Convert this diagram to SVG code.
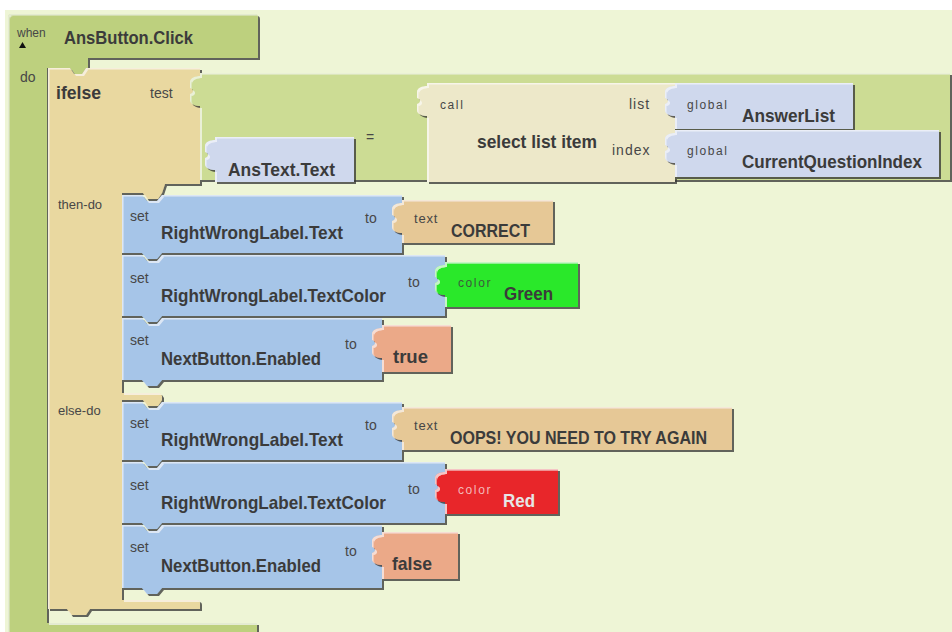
<svg xmlns="http://www.w3.org/2000/svg" xmlns:xlink="http://www.w3.org/1999/xlink" width="952" height="632" viewBox="0 0 952 632">
  <defs>
    <style>
      text { font-family: "Liberation Sans", Arial, sans-serif; }
      .lbl { font-size: 14px; fill: #474747; }
      .tiny { font-size: 12px; letter-spacing: 1.6px; fill: #474747; }
      .name { font-size: 19px; font-weight: bold; fill: #3b3b3b; }
      .shape { filter: url(#bevel); }
      .ev { fill: #BDD07E; }
      .cond { fill: #E9D8A0; }
      .eq { fill: #CCDC94; }
      .get { fill: #CFD8ED; }
      .call { fill: #EDE8C9; }
      .set { fill: #A6C5E8; }
      .txt { fill: #E6C896; }
      .grn { fill: #2BE82B; }
      .red { fill: #E8282A; }
      .bool { fill: #EBA988; }
    </style>
    <!-- raised-block look: dark lower/right edge, light upper/left rim -->
    <filter id="bevel" x="-2%" y="-5%" width="104%" height="115%">
      <feOffset in="SourceAlpha" dx="1.5" dy="1.5" result="drop"/>
      <feFlood flood-color="#333333" flood-opacity="0.75" result="dropColor"/>
      <feComposite in="dropColor" in2="drop" operator="in" result="shadow"/>
      <feOffset in="SourceAlpha" dx="1.5" dy="1.5" result="inset"/>
      <feComposite in="SourceAlpha" in2="inset" operator="out" result="rim"/>
      <feFlood flood-color="#ffffff" flood-opacity="0.55"/>
      <feComposite in2="rim" operator="in" result="light"/>
      <feMerge>
        <feMergeNode in="shadow"/>
        <feMergeNode in="SourceGraphic"/>
        <feMergeNode in="light"/>
      </feMerge>
    </filter>
    <!-- plug on the left side of value blocks, relative to the body's top-left -->
    <path id="plug" d="M1,3 C-5,3 -10,5 -10,9 L-10,15 C-6,16 -6,20 -10,21 L-10,27 C-10,31 -5,33 1,33 Z"/>
  </defs>

  <!-- workspace -->
  <rect x="0" y="0" width="952" height="632" fill="#ffffff"/>
  <rect x="5" y="10" width="947" height="622" fill="#EEF5D6"/>

  <!-- event handler -->
  <g id="when-ansbutton-click">
    <g class="shape ev">
      <path d="M11,14 H255 Q258,14 258,17 V58 H88 V68 H86 L82,74 H74 L70,68 H47 V623 H257 V636 H8 V17 Q8,14 11,14 Z"/>
    </g>
    <text class="lbl" x="17" y="37" style="font-size:12px">when</text>
    <path d="M19,48 L26,48 L22.5,42 Z" fill="#111"/>
    <text class="name" x="64" y="44" textLength="129" lengthAdjust="spacingAndGlyphs">AnsButton.Click</text>
    <text class="lbl" x="20" y="82">do</text>
  </g>

  <!-- ifelse -->
  <g id="ifelse">
    <g class="shape cond">
      <path d="M48,68 H70 L74,74 H82 L86,68 H200 V184 H165 L162,193 L158,199 H147 L143,193 H122 V393 H160 L162,396 V400 L158,406 H147 L143,400 H122 V600 H197 Q200,600 200,603 V609 H90 L86,615 H71 L67,609 H48 Z"/>
    </g>
    <text class="name" x="56" y="99" textLength="45" lengthAdjust="spacingAndGlyphs">ifelse</text>
    <text class="lbl" x="150" y="98">test</text>
    <text class="lbl" x="58" y="209" style="font-size:13px">then-do</text>
    <text class="lbl" x="58" y="415" style="font-size:13px">else-do</text>
  </g>

  <!-- comparison -->
  <g id="equals">
    <g class="shape eq">
      <path d="M200,73 H950 V180 H200 Z"/>
      <use xlink:href="#plug" x="200" y="73"/>
    </g>
    <text class="lbl" x="366" y="142">=</text>
  </g>

  <g id="anstext-text">
    <g class="shape get">
      <path d="M215,137 H354 V182 H215 Z"/>
      <use xlink:href="#plug" x="215" y="137"/>
    </g>
    <text class="name" x="228" y="176" textLength="107" lengthAdjust="spacingAndGlyphs">AnsText.Text</text>
  </g>

  <g id="select-list-item">
    <g class="shape call">
      <path d="M427,83 H675 V182 H427 Z"/>
      <use xlink:href="#plug" x="427" y="83"/>
    </g>
    <text class="tiny" x="440" y="109">call</text>
    <text class="name" x="477" y="148" textLength="120" lengthAdjust="spacingAndGlyphs">select list item</text>
    <text class="lbl" x="629" y="109" style="letter-spacing:1px">list</text>
    <text class="lbl" x="612" y="155" style="letter-spacing:1px">index</text>
  </g>

  <g id="global-answerlist">
    <g class="shape get">
      <path d="M675,83 H853 V129 H675 Z"/>
      <use xlink:href="#plug" x="675" y="83"/>
    </g>
    <text class="tiny" x="687" y="109">global</text>
    <text class="name" x="742" y="122" textLength="93" lengthAdjust="spacingAndGlyphs">AnswerList</text>
  </g>

  <g id="global-currentquestionindex">
    <g class="shape get">
      <path d="M675,130 H939 V177 H675 Z"/>
      <use xlink:href="#plug" x="675" y="130"/>
    </g>
    <text class="tiny" x="687" y="155">global</text>
    <text class="name" x="742" y="168" textLength="180" lengthAdjust="spacingAndGlyphs">CurrentQuestionIndex</text>
  </g>

  <!-- then-do statements -->
  <g id="set-text-correct">
    <g class="shape set">
      <path d="M122,195 H142 L147,201 H157 L162,195 H402 V253 H162 L157,259 H147 L142,253 H122 Z"/>
    </g>
    <text class="lbl" x="130" y="221">set</text>
    <text class="name" x="161" y="239" textLength="182" lengthAdjust="spacingAndGlyphs">RightWrongLabel.Text</text>
    <text class="lbl" x="365" y="223">to</text>
  </g>
  <g id="text-correct">
    <g class="shape txt">
      <path d="M402,200 H553 V243 H402 Z"/>
      <use xlink:href="#plug" x="402" y="200"/>
    </g>
    <text class="tiny" x="414" y="223" style="font-size:13px;letter-spacing:0.8px">text</text>
    <text class="name" x="451" y="237" textLength="79" lengthAdjust="spacingAndGlyphs">CORRECT</text>
  </g>

  <g id="set-color-green">
    <g class="shape set">
      <path d="M122,255 H142 L147,261 H157 L162,255 H445 V316 H162 L157,322 H147 L142,316 H122 Z"/>
    </g>
    <text class="lbl" x="130" y="283">set</text>
    <text class="name" x="161" y="302" textLength="225" lengthAdjust="spacingAndGlyphs">RightWrongLabel.TextColor</text>
    <text class="lbl" x="408" y="287">to</text>
  </g>
  <g id="color-green">
    <g class="shape grn">
      <path d="M445,262 H578 V307 H445 Z"/>
      <use xlink:href="#plug" x="445" y="262"/>
    </g>
    <text class="tiny" x="458" y="287" style="fill:#3d5a3d">color</text>
    <text class="name" x="504" y="300" textLength="49" lengthAdjust="spacingAndGlyphs">Green</text>
  </g>

  <g id="set-enabled-true">
    <g class="shape set">
      <path d="M122,318 H142 L147,324 H157 L162,318 H382 V380 H162 L157,386 H147 L142,380 H122 Z"/>
    </g>
    <text class="lbl" x="130" y="345">set</text>
    <text class="name" x="161" y="365" textLength="160" lengthAdjust="spacingAndGlyphs">NextButton.Enabled</text>
    <text class="lbl" x="345" y="349">to</text>
  </g>
  <g id="bool-true">
    <g class="shape bool">
      <path d="M382,325 H451 V372 H382 Z"/>
      <use xlink:href="#plug" x="382" y="325"/>
    </g>
    <text class="name" x="393" y="363" textLength="35" lengthAdjust="spacingAndGlyphs">true</text>
  </g>

  <!-- else-do statements -->
  <g id="set-text-oops">
    <g class="shape set">
      <path d="M122,402 H142 L147,408 H157 L162,402 H402 V460 H162 L157,466 H147 L142,460 H122 Z"/>
    </g>
    <text class="lbl" x="130" y="428">set</text>
    <text class="name" x="161" y="446" textLength="182" lengthAdjust="spacingAndGlyphs">RightWrongLabel.Text</text>
    <text class="lbl" x="365" y="430">to</text>
  </g>
  <g id="text-oops">
    <g class="shape txt">
      <path d="M402,407 H732 V450 H402 Z"/>
      <use xlink:href="#plug" x="402" y="407"/>
    </g>
    <text class="tiny" x="414" y="430" style="font-size:13px;letter-spacing:0.8px">text</text>
    <text class="name" x="450" y="444" textLength="257" lengthAdjust="spacingAndGlyphs">OOPS! YOU NEED TO TRY AGAIN</text>
  </g>

  <g id="set-color-red">
    <g class="shape set">
      <path d="M122,462 H142 L147,468 H157 L162,462 H445 V523 H162 L157,529 H147 L142,523 H122 Z"/>
    </g>
    <text class="lbl" x="130" y="490">set</text>
    <text class="name" x="161" y="509" textLength="225" lengthAdjust="spacingAndGlyphs">RightWrongLabel.TextColor</text>
    <text class="lbl" x="408" y="494">to</text>
  </g>
  <g id="color-red">
    <g class="shape red">
      <path d="M445,469 H558 V514 H445 Z"/>
      <use xlink:href="#plug" x="445" y="469"/>
    </g>
    <text class="tiny" x="458" y="494" style="fill:#f3b9b9">color</text>
    <text class="name" x="503" y="507" textLength="32" lengthAdjust="spacingAndGlyphs" style="fill:#e6e6e6">Red</text>
  </g>

  <g id="set-enabled-false">
    <g class="shape set">
      <path d="M122,525 H142 L147,531 H157 L162,525 H382 V588 H162 L157,594 H147 L142,588 H122 Z"/>
    </g>
    <text class="lbl" x="130" y="552">set</text>
    <text class="name" x="161" y="572" textLength="160" lengthAdjust="spacingAndGlyphs">NextButton.Enabled</text>
    <text class="lbl" x="345" y="556">to</text>
  </g>
  <g id="bool-false">
    <g class="shape bool">
      <path d="M382,532 H458 V579 H382 Z"/>
      <use xlink:href="#plug" x="382" y="532"/>
    </g>
    <text class="name" x="392" y="570" textLength="40" lengthAdjust="spacingAndGlyphs">false</text>
  </g>
</svg>
